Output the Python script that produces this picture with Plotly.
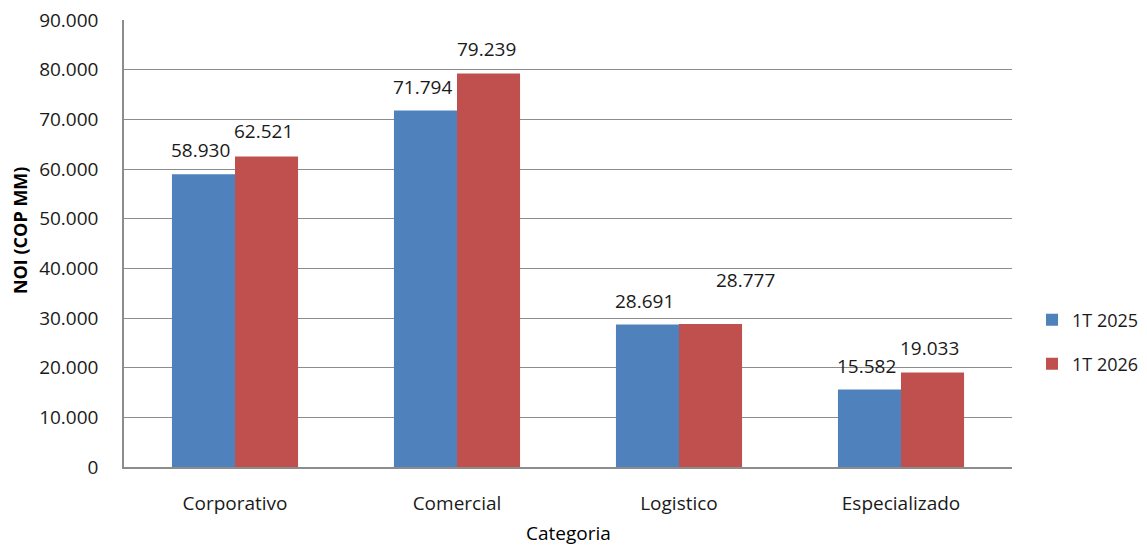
import plotly.graph_objects as go

categorias = ["Corporativo", "Comercial", "Logistico", "Especializado"]
noi_2025 = [58930, 71794, 28691, 15582]
noi_2026 = [62521, 79239, 28777, 19033]
series_names = ["1T 2025", "1T 2026"]
y_ticks = [0, 10000, 20000, 30000, 40000, 50000, 60000, 70000, 80000, 90000]

BLUE = "#4F81BD"
RED = "#C0504D"
GRID = "#8C8C8C"
FONT = "Open Sans, Noto Sans, sans-serif"
TXT = "#1a1a1a"


def fmt(v):
    return f"{v:,}".replace(",", ".")


fig = go.Figure()
fig.add_trace(go.Bar(x=categorias, y=noi_2025, name=series_names[0],
                     marker=dict(color=BLUE, line=dict(width=0)), legend="legend"))
fig.add_trace(go.Bar(x=categorias, y=noi_2026, name=series_names[1],
                     marker=dict(color=RED, line=dict(width=0)), legend="legend2"))

# value labels above each bar (half bar width = 31.5 px)
label_offsets_2025 = [(-3, 24), (-3, 23), (-3, 24), (-3, 24)]
label_offsets_2026 = [(-3, 25), (-2, 24), (35, 44), (-3, 24)]
annotations = []
for cat, v, (dx, dy) in zip(categorias, noi_2025, label_offsets_2025):
    annotations.append(dict(x=cat, y=v, xref="x", yref="y", text=fmt(v),
                            showarrow=False, xshift=-31.5 + dx, yshift=dy,
                            xanchor="center", yanchor="middle",
                            font=dict(family=FONT, size=19, color=TXT)))
for cat, v, (dx, dy) in zip(categorias, noi_2026, label_offsets_2026):
    annotations.append(dict(x=cat, y=v, xref="x", yref="y", text=fmt(v),
                            showarrow=False, xshift=31.5 + dx, yshift=dy,
                            xanchor="center", yanchor="middle",
                            font=dict(family=FONT, size=19, color=TXT)))

# axis titles
annotations.append(dict(x=0, y=0.53, xref="paper", yref="paper", xshift=-104,
                        text="<b>NOI (COP MM)</b>", textangle=-90, showarrow=False,
                        xanchor="center", yanchor="middle",
                        font=dict(family=FONT, size=18, color="#000000")))
annotations.append(dict(x=0.5, y=0, xref="paper", yref="paper", yshift=-66,
                        text="Categoria", showarrow=False,
                        xanchor="center", yanchor="middle",
                        font=dict(family=FONT, size=19, color="#000000")))

legend_style = dict(xref="container", yref="container", xanchor="left", yanchor="middle",
                    font=dict(family=FONT, size=18, color=TXT), bgcolor="rgba(0,0,0,0)",
                    borderwidth=0)

fig.update_layout(
    width=1147, height=548,
    margin=dict(l=124, r=135, t=20, b=81, autoexpand=False),
    paper_bgcolor="white", plot_bgcolor="white",
    separators=",.",
    barmode="group", bargap=0.432, bargroupgap=0,
    font=dict(family=FONT, size=19, color=TXT),
    showlegend=True,
    legend=dict(x=1032 / 1147, y=1 - 320 / 548, **legend_style),
    legend2=dict(x=1032 / 1147, y=1 - 364 / 548, **legend_style),
    annotations=annotations,
)
fig.update_xaxes(showline=True, linecolor=GRID, linewidth=1.5, ticks="",
                 showgrid=False, automargin=False,
                 tickfont=dict(family=FONT, size=19, color=TXT),
                 ticklabelstandoff=18)
fig.update_yaxes(range=[0, 90000], tickvals=y_ticks, tickformat=",d",
                 showline=True, linecolor=GRID, linewidth=1.5,
                 showgrid=True, gridcolor=GRID, gridwidth=1.2,
                 zeroline=False, ticks="", automargin=False,
                 tickfont=dict(family=FONT, size=19, color=TXT),
                 ticklabelstandoff=20)

fig.write_html("out.html")
